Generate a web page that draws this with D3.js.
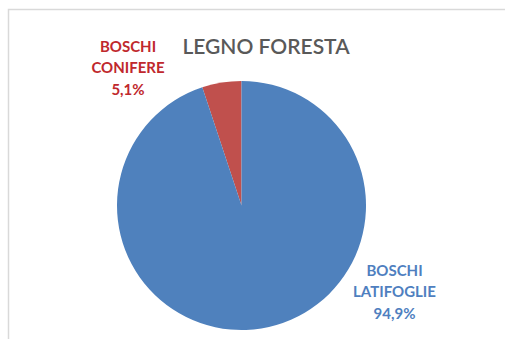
<!DOCTYPE html>
<html>
<head>
<meta charset="utf-8">
<script src="https://cdn.jsdelivr.net/npm/d3@7"></script>
<style>
  html, body { margin: 0; padding: 0; background: #fff; }
  svg { display: block; }
</style>
</head>
<body>
<svg id="chart" width="505" height="339"></svg>
<script>
// Data
const title = "LEGNO FORESTA";
const categories = ["BOSCHI CONIFERE", "BOSCHI LATIFOGLIE"];
const labelLines = [["BOSCHI", "CONIFERE"], ["BOSCHI", "LATIFOGLIE"]];
const values = [5.1, 94.9];

// Styling
const sliceColors = ["#c0504d", "#4f81bd"];
const labelColors = ["#c0282d", "#4f7fbf"];
const labelAnchors = [{ x: 128, y: 51.5 }, { x: 394.5, y: 275.5 }];

const W = 505, H = 339;
const cx = 241.5, cy = 205.5, r = 124.5;
const fontFamily = "Lato, 'Open Sans', sans-serif";

const svg = d3.select("#chart");

// Chart area frame
svg.append("rect")
  .attr("x", 8.5).attr("y", 9.5)
  .attr("width", W + 10).attr("height", H + 10)
  .attr("fill", "#fff")
  .attr("stroke", "#d9d9d9")
  .attr("stroke-width", 1.5);

const fmt = v => v.toFixed(1).replace(".", ",") + "%";

// Slices start at 12 o'clock; the small slice is drawn counter-clockwise of it
const offset = values[0] / d3.sum(values) * 2 * Math.PI;
const pie = d3.pie().sort(null).value(d => d)
  .startAngle(-offset)
  .endAngle(2 * Math.PI - offset);
const arc = d3.arc().innerRadius(0).outerRadius(r);

const g = svg.append("g").attr("transform", `translate(${cx},${cy})`);
g.selectAll("path")
  .data(pie(values))
  .join("path")
  .attr("d", arc)
  .attr("fill", (d, i) => sliceColors[i]);

// Title
svg.append("text")
  .attr("x", 266).attr("y", 53.5)
  .attr("text-anchor", "middle")
  .attr("font-family", fontFamily)
  .attr("font-size", 21)
  .attr("font-weight", 600)
  .attr("fill", "#595959")
  .text(title);

// Data labels
categories.forEach((c, i) => {
  const lines = labelLines[i].concat([fmt(values[i])]);
  const t = svg.append("text")
    .attr("text-anchor", "middle")
    .attr("font-family", fontFamily)
    .attr("font-size", 15)
    .attr("font-weight", "bold")
    .attr("fill", labelColors[i]);
  lines.forEach((ln, k) => {
    t.append("tspan")
      .attr("x", labelAnchors[i].x)
      .attr("y", labelAnchors[i].y + k * 21.5)
      .text(ln);
  });
});
</script>
</body>
</html>
